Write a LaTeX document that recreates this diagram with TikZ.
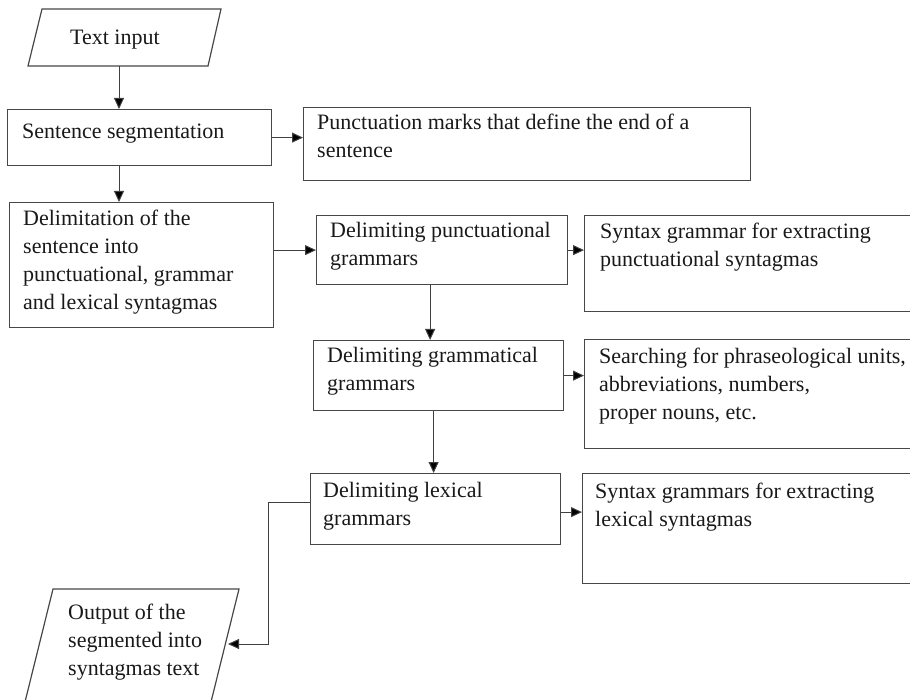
\documentclass[tikz,border=0pt]{standalone}
\usepackage{fontspec}
\setmainfont{Liberation Serif}
\usetikzlibrary{arrows.meta,calc}
\begin{document}
\begin{tikzpicture}[x=1pt,y=-1pt,
  box/.style={draw=black!72, line width=1.2pt, rectangle, inner sep=0pt, anchor=north west},
  para/.style={draw=black!72, line width=1.2pt},
  arr/.style={draw=black!75, line width=1pt, -{Triangle[length=11pt,width=10pt,fill=black]}},
  txt/.style={font=\fontsize{22}{28}\selectfont, text=black!90, inner sep=0pt, align=left, anchor=north west, execute at begin node=\strut}]
\useasboundingbox (0,0) rectangle (910,700);
\clip (0,0) rectangle (910,700);

% input parallelogram
\draw[para] (28,66) -- (208,66) -- (221,9) -- (42,9) -- cycle;
\coordinate (tinb) at (119,66);
\node[txt] (tin) at (70,24.4) {Text input};

% boxes
\node[box, minimum width=264pt, minimum height=56pt] (ss) at (7,109) {};
\node[txt] (sst) at (22,118.4) {Sentence segmentation};

\node[box, minimum width=447pt, minimum height=73pt] (pm) at (303,107) {};
\node[txt] (pmt) at (317,113.4) {Punctuation marks that define the end of a\\sentence};

\node[box, minimum width=264pt, minimum height=125pt] (dl) at (9,202) {};
\node[txt] (dlt) at (23,209.4) {Delimitation of the\\sentence into\\punctuational, grammar\\and lexical syntagmas};

\node[box, minimum width=251pt, minimum height=69pt] (dpg) at (316,215) {};
\node[txt] (dpgt) at (330,222.4) {Delimiting punctuational\\grammars};

\node[box, minimum width=346pt, minimum height=96pt] (sg1) at (584,215) {};
\node[txt] (sg1t) at (600,222.4) {Syntax grammar for extracting\\punctuational syntagmas};

\node[box, minimum width=250pt, minimum height=70pt] (dgg) at (313,340) {};
\node[txt] (dggt) at (327,347.4) {Delimiting grammatical\\grammars};

\node[box, minimum width=346pt, minimum height=109pt] (sg2) at (584,339) {};
\node[txt] (sg2t) at (599,347.4) {Searching for phraseological units,\\abbreviations, numbers,\\proper nouns, etc.};

\node[box, minimum width=250pt, minimum height=71pt] (dlg) at (310,473) {};
\node[txt] (dlgt) at (323,482.4) {Delimiting lexical\\grammars};

\node[box, minimum width=348pt, minimum height=110pt] (sg3) at (582,473) {};
\node[txt] (sg3t) at (595,482.4) {Syntax grammars for extracting\\lexical syntagmas};

% output parallelogram
\draw[para] (53,589) -- (239,589) -- (209,710) -- (23,710) -- cycle;
\coordinate (outr) at (228,644);
\node[txt] (outt) at (68,603.4) {Output of the\\segmented into\\syntagmas text};

% connectors
\draw[arr] (tinb) -- (tinb |- ss.north);
\draw[arr] (ss.east) -- (ss.east -| pm.west);
\draw[arr] (tinb |- ss.south) -- (tinb |- dl.north);
\draw[arr] (dpg.west -| dl.east) -- (dpg.west);
\draw[arr] (dpg.east) -- (dpg.east -| sg1.west);
\draw[arr] ([xshift=-12pt]dpg.south) -- ([xshift=-12pt]dpg.south |- dgg.north);
\draw[arr] (dgg.east) -- (dgg.east -| sg2.west);
\draw[arr] ([xshift=-5pt]dgg.south) -- ([xshift=-5pt]dgg.south |- dlg.north);
\draw[arr] ([yshift=-3pt]dlg.east) -- ([yshift=-3pt]dlg.east -| sg3.west);
\draw[arr] ([yshift=6.5pt]dlg.west) -- ++(-42,0) |- (outr);
\end{tikzpicture}
\end{document}
